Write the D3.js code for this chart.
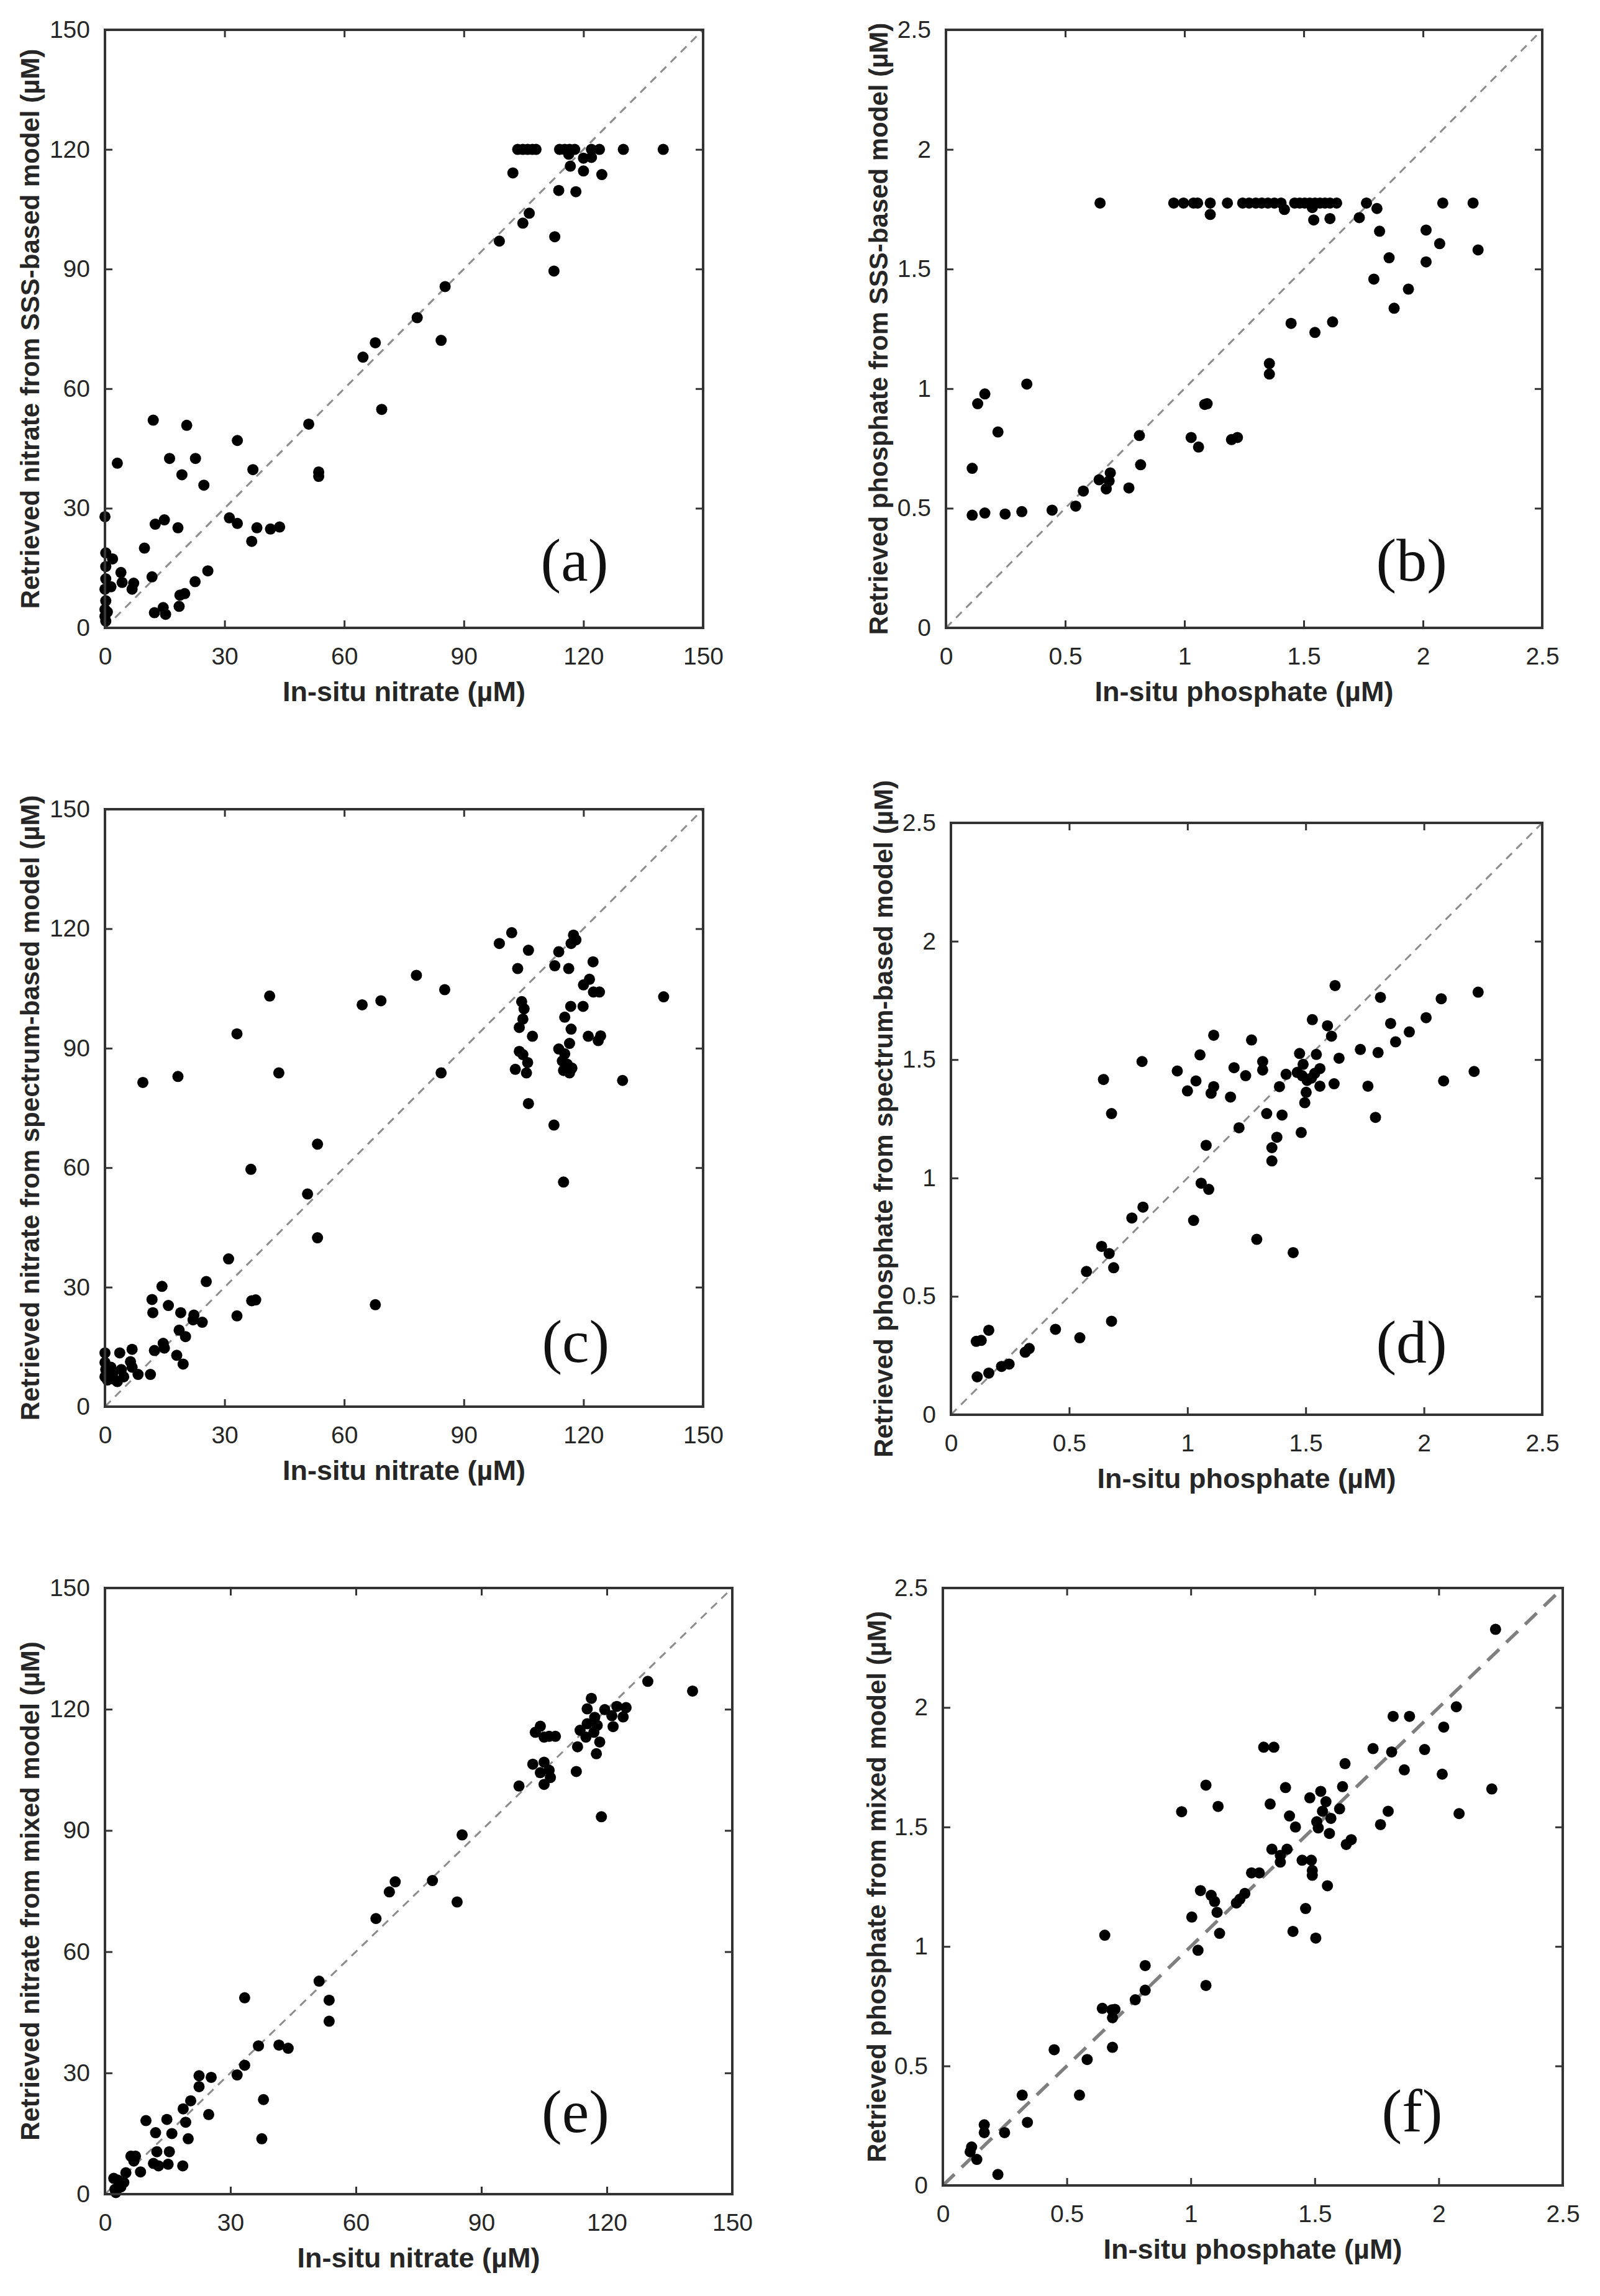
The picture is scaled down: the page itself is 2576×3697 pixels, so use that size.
<!DOCTYPE html>
<html>
<head>
<meta charset="utf-8">
<script src="https://cdn.jsdelivr.net/npm/d3@7"></script>
<style>
  html, body { margin: 0; padding: 0; background: #fff; }
  svg { display: block; }
</style>
</head>
<body>
<svg id="chart" width="2576" height="3697"></svg>
<script>
// ---- data ----
const nitrateTicks = [0, 30, 60, 90, 120, 150];
const phosphateTicks = [0, 0.5, 1, 1.5, 2, 2.5];

const panelLetters = ["(a)", "(b)", "(c)", "(d)", "(e)", "(f)"];
const xTitles = ["In-situ nitrate (µM)", "In-situ phosphate (µM)", "In-situ nitrate (µM)",
                 "In-situ phosphate (µM)", "In-situ nitrate (µM)", "In-situ phosphate (µM)"];
const yTitles = ["Retrieved nitrate from SSS-based model (µM)",
                 "Retrieved phosphate from SSS-based model (µM)",
                 "Retrieved nitrate from spectrum-based model (µM)",
                 "Retrieved phosphate from spectrum-based model (µM)",
                 "Retrieved nitrate from mixed model (µM)",
                 "Retrieved phosphate from mixed model (µM)"];

// (a) in-situ vs SSS-based nitrate
const sssNitrate = [
  [103.5,120],[104.8,120],[106,120],[107.2,120],[108.1,120],[114,120],[115.3,120],[116.5,120],
  [117.8,120],[122,120],[124,120],[130,120],[140,120],
  [102.3,114.1],[116.3,118.8],[116.7,115.8],[120,117.8],[120,114.6],[122,118],[124.6,113.7],
  [113.8,109.7],[118.1,109.4],[104.8,101.5],[106.4,104],[98.9,97],[112.8,98.1],[112.6,89.5],
  [85.3,85.6],[78.3,77.8],[84.3,72.1],[64.7,67.9],[67.8,71.5],[69.4,54.8],[51.1,51.1],
  [53.6,39.1],[53.6,38],[37.1,39.7],[33.2,47],[31.2,27.6],[33.2,26.2],[36.8,21.7],[38.1,25.1],
  [41.5,24.8],[43.8,25.3],[25.8,14.3],[24.8,35.8],[22.7,42.5],[20.5,50.8],[19.3,38.4],
  [16.2,42.5],[12.1,52.1],[3.1,41.3],[18.3,25.1],[14.9,27.1],[12.6,26],[9.9,20],[11.8,12.8],
  [22.6,11.6],[20,8.6],[18.8,8.2],[18.6,5.4],[14.6,5.1],[15.2,3.4],[12.4,3.8],[0,27.9],
  [0.2,18.8],[0.2,15.4],[1.9,17.3],[4,13.9],[4.3,11.4],[7.2,11.2],[6.8,9.7],[1.5,10.3],
  [0.2,12.3],[0,9.7],[0.2,6.8],[0,4.6],[0,2.9],[0.2,1.7],[0.6,4]
];

// (b) in-situ vs SSS-based phosphate
const sssPhosphate = [
  [0.646,1.776],[0.955,1.776],[0.996,1.776],[1.038,1.776],[1.055,1.776],[1.108,1.776],
  [1.18,1.776],[1.244,1.776],[1.271,1.776],[1.299,1.776],[1.324,1.776],[1.35,1.776],
  [1.377,1.776],[1.405,1.776],[1.462,1.776],[1.483,1.776],[1.504,1.776],[1.525,1.776],
  [1.547,1.776],[1.568,1.776],[1.589,1.776],[1.61,1.776],[1.638,1.776],[1.763,1.776],
  [2.083,1.776],[2.21,1.776],
  [1.108,1.728],[1.419,1.749],[1.536,1.757],[1.542,1.705],[1.61,1.711],[1.733,1.715],
  [1.807,1.753],[1.818,1.658],[2.013,1.663],[2.07,1.606],[1.858,1.547],[2.013,1.53],
  [2.231,1.58],[1.794,1.458],[1.939,1.416],[1.879,1.336],[1.447,1.273],[1.547,1.235],
  [1.621,1.279],[1.356,1.105],[1.356,1.061],[1.085,0.934],[1.095,0.937],[1.028,0.796],
  [1.059,0.756],[1.197,0.787],[1.222,0.796],[0.811,0.804],[0.816,0.682],[0.642,0.619],
  [0.689,0.648],[0.684,0.614],[0.672,0.581],[0.767,0.585],[0.576,0.572],[0.544,0.509],
  [0.445,0.492],[0.318,0.486],[0.248,0.476],[0.163,0.48],[0.11,0.471],[0.11,0.667],
  [0.133,0.937],[0.163,0.978],[0.218,0.819],[0.339,1.019]
];

// (c) in-situ vs spectrum-based nitrate
const spectrumNitrate = [
  [98.9,116.3],[102,119],[106.2,114.6],[103.5,110],[112.8,110.7],[113.8,114.2],[116.3,110],
  [116.9,116.3],[117.5,118.4],[118.1,117.2],[122.4,111.7],[121.5,107.3],[120,105.9],
  [122.5,104.1],[124,104.1],[119.9,100.5],[116.8,100.5],[121.2,93],[123.7,91.9],[124.3,93.1],
  [115.3,97.8],[116.9,94.8],[116.5,91.2],[113.8,89.8],[115.3,88.6],[114.7,86.8],[115.9,86],
  [115,84.4],[116.5,83.8],[117.1,85],[104.5,101.7],[105.1,99.9],[104.8,97.3],[103.9,95.2],
  [107.2,93],[103.9,89.2],[104.8,88.4],[106,86.4],[102.9,84.7],[105.7,83.8],[106.2,76.1],
  [112.6,70.7],[115,56.4],[129.8,81.9],[140.1,102.9],[85.2,104.7],[84.3,83.8],[78.1,108.3],
  [69.2,101.9],[64.5,100.9],[41.3,103.1],[33.1,93.6],[43.6,83.8],[18.3,82.9],[9.5,81.4],
  [36.6,59.6],[53.3,65.9],[50.8,53.4],[53.3,42.4],[31,37.1],[67.8,25.6],[36.8,26.6],
  [37.8,26.8],[33.1,22.8],[25.4,31.4],[24.4,21.2],[22.3,23],[22.1,21.8],[19,23.6],
  [18.6,19.2],[20.2,17.6],[19.6,10.7],[18,12.9],[14.3,30.2],[11.8,26.9],[12,23.6],
  [15.9,25.4],[14.6,15.9],[14.9,14.7],[12.4,14.1],[11.4,8.1],[8.3,8.1],[6.8,14.4],
  [6.4,11.3],[6.8,9.9],[3.7,13.5],[4.1,9.3],[4.7,7.5],[3.1,6.3],[1.9,8.1],[1.5,9.9],
  [0,13.5],[0,11.1],[0.2,9.3],[0,7.5],[0.6,6.7],[2.2,6.9]
];

// (d) in-situ vs spectrum-based phosphate
const spectrumPhosphate = [
  [1.624,1.813],[1.816,1.763],[2.073,1.757],[2.229,1.785],[1.528,1.669],[1.592,1.643],
  [1.609,1.599],[2.009,1.677],[1.859,1.653],[1.938,1.617],[1.88,1.575],[1.731,1.543],
  [1.806,1.53],[1.641,1.506],[1.545,1.522],[1.56,1.462],[1.538,1.442],[1.56,1.388],
  [1.62,1.398],[1.474,1.526],[1.489,1.48],[1.464,1.446],[1.485,1.432],[1.506,1.412],
  [1.524,1.422],[1.502,1.362],[1.496,1.318],[1.481,1.192],[1.417,1.438],[1.389,1.386],
  [1.4,1.266],[1.335,1.272],[1.378,1.172],[1.357,1.128],[1.357,1.072],[1.318,1.492],
  [1.318,1.456],[1.271,1.583],[1.246,1.432],[1.197,1.466],[1.182,1.342],[1.218,1.212],
  [1.111,1.603],[1.053,1.52],[1.036,1.41],[0.957,1.452],[1.0,1.368],[1.111,1.386],
  [1.1,1.358],[1.079,1.138],[1.058,0.978],[1.09,0.952],[1.026,0.821],[1.293,0.741],
  [1.447,0.685],[0.808,1.492],[0.645,1.416],[0.679,1.272],[0.812,0.877],[0.765,0.831],
  [0.637,0.711],[0.669,0.681],[0.688,0.621],[0.679,0.395],[0.573,0.605],[0.545,0.325],
  [0.442,0.361],[0.331,0.28],[0.314,0.264],[0.246,0.214],[0.214,0.204],[0.16,0.176],
  [0.111,0.16],[0.107,0.31],[0.128,0.314],[0.16,0.357],[2.212,1.45],[2.083,1.41],
  [1.763,1.388],[1.795,1.256]
];

// (e) in-situ vs mixed-model nitrate
const mixedNitrate = [
  [140.5,124.5],[129.8,126.9],[116.3,122.7],[115.3,120.1],[119.5,119.9],[122.4,120.7],
  [124.6,120.4],[121.2,118.4],[123.9,118.1],[117.1,118],[117.7,116],[121.5,115.7],
  [113.6,114.8],[115.3,116.4],[116.9,114.3],[115,113.1],[118.3,111.9],[113,110.7],
  [117.5,109],[112.7,104.6],[118.7,93.4],[104.1,115.8],[102.9,114.3],[105,113.1],
  [106.2,113.3],[107.7,113.3],[104.1,104.3],[105,106.9],[102.3,106.4],[106.2,104.9],
  [106.5,103.1],[105,101.4],[99,101],[85.4,88.9],[84.2,72.3],[78.3,77.6],[69.4,77.3],
  [68,74.8],[64.8,68.2],[51.2,52.7],[53.6,48],[53.6,42.8],[33.4,48.6],[36.7,36.7],
  [41.6,36.9],[43.8,36.1],[33.4,31.9],[31.6,29.5],[37.9,23.4],[37.5,13.7],[25.4,28.9],
  [22.5,29.3],[22.5,26.6],[20.5,23.1],[24.8,19.7],[18.7,21.1],[19.3,17.8],[19.9,13.7],
  [14.8,18.5],[16,15],[12.1,15.2],[9.8,18.2],[12.4,10.5],[15.4,10.5],[11.6,7.6],[12.8,7],
  [15.1,7.4],[18.6,7],[8.5,5.5],[6.2,9.4],[7.3,9.4],[6.9,8.2],[5,5.3],[4.5,2.9],[3.5,2.1],
  [2.4,1.2],[2.1,3.9],[3,3.5],[3.8,1.8],[2.6,0.4]
];

// (f) in-situ vs mixed-model phosphate
const mixedPhosphate = [
  [2.229,2.327],[2.071,2.003],[2.02,1.918],[1.816,1.963],[1.882,1.963],[1.943,1.824],
  [1.735,1.828],[1.81,1.814],[1.861,1.739],[2.014,1.721],[2.214,1.659],[2.082,1.556],
  [1.796,1.566],[1.765,1.51],[1.294,1.834],[1.335,1.834],[1.061,1.675],[1.11,1.586],
  [0.963,1.564],[1.32,1.596],[1.382,1.665],[1.622,1.765],[1.612,1.669],[1.524,1.649],
  [1.48,1.622],[1.545,1.606],[1.6,1.576],[1.531,1.566],[1.565,1.536],[1.508,1.522],
  [1.514,1.496],[1.559,1.473],[1.422,1.5],[1.398,1.546],[1.647,1.447],[1.627,1.427],
  [1.327,1.407],[1.388,1.407],[1.361,1.381],[1.361,1.353],[1.449,1.361],[1.486,1.361],
  [1.49,1.318],[1.49,1.298],[1.551,1.254],[1.245,1.308],[1.276,1.308],[1.218,1.222],
  [1.198,1.198],[1.184,1.182],[1.039,1.234],[1.082,1.214],[1.096,1.188],[1.106,1.143],
  [1.116,1.055],[1.004,1.123],[1.029,0.984],[1.061,0.837],[1.463,1.159],[1.412,1.063],
  [1.504,1.035],[0.816,0.92],[0.816,0.817],[0.776,0.777],[0.653,1.047],[0.643,0.741],
  [0.682,0.735],[0.694,0.737],[0.684,0.702],[0.684,0.578],[0.582,0.527],[0.551,0.378],
  [0.449,0.568],[0.32,0.378],[0.341,0.264],[0.249,0.221],[0.167,0.254],[0.167,0.221],
  [0.116,0.161],[0.11,0.141],[0.137,0.109],[0.222,0.046]
];

// ---- layout (pixel frames of each axes box) ----
const panels = [
  {pts: sssNitrate,        ticks: nitrateTicks,   x0: 169,  x1: 1132, y0: 48,   y1: 1011, lx: 0.785, ly: 0.921, yOff: 106, thick: false},
  {pts: sssPhosphate,      ticks: phosphateTicks, x0: 1523, x1: 2483, y0: 48,   y1: 1011, lx: 0.781, ly: 0.921, yOff: 94,  thick: false},
  {pts: spectrumNitrate,   ticks: nitrateTicks,   x0: 169,  x1: 1132, y0: 1303, y1: 2265, lx: 0.787, ly: 0.925, yOff: 106, thick: false},
  {pts: spectrumPhosphate, ticks: phosphateTicks, x0: 1531, x1: 2483, y0: 1325, y1: 2278, lx: 0.779, ly: 0.912, yOff: 94,  thick: false},
  {pts: mixedNitrate,      ticks: nitrateTicks,   x0: 169,  x1: 1179, y0: 2557, y1: 3533, lx: 0.750, ly: 0.898, yOff: 106, thick: false},
  {pts: mixedPhosphate,    ticks: phosphateTicks, x0: 1518, x1: 2516, y0: 2557, y1: 3519, lx: 0.757, ly: 0.910, yOff: 92,  thick: true}
];

const axisColor = "#333333";
const textColor = "#262626";
const sansFont = "'Liberation Sans', Arial, Helvetica, sans-serif";
const serifFont = "'Liberation Serif', 'Times New Roman', Times, serif";

const svg = d3.select("#chart");
svg.append("rect").attr("width", 2576).attr("height", 3697).attr("fill", "#fff");

panels.forEach(function(p, i) {
  const maxV = p.ticks[p.ticks.length - 1];
  const x = d3.scaleLinear().domain([0, maxV]).range([p.x0, p.x1]);
  const y = d3.scaleLinear().domain([0, maxV]).range([p.y1, p.y0]);
  const g = svg.append("g");

  // 1:1 line
  g.append("line")
    .attr("x1", x(0)).attr("y1", y(0))
    .attr("x2", x(maxV)).attr("y2", y(maxV))
    .attr("stroke", p.thick ? "#7f7f7f" : "#8c8c8c")
    .attr("stroke-width", p.thick ? 5.5 : 3)
    .attr("stroke-dasharray", p.thick ? "26,16" : "13,10");

  // points
  g.selectAll("circle")
    .data(p.pts)
    .enter()
    .append("circle")
    .attr("cx", function(d) { return x(d[0]); })
    .attr("cy", function(d) { return y(d[1]); })
    .attr("r", 9)
    .attr("fill", "#000");

  // axes, ticks pointing inwards like matlab
  const fmt = function(d) { return String(d); };
  const bottom = g.append("g").attr("transform", "translate(0," + p.y1 + ")")
    .call(d3.axisBottom(x).tickValues(p.ticks).tickFormat(fmt).tickSizeInner(-12).tickSizeOuter(0).tickPadding(31));
  const left = g.append("g").attr("transform", "translate(" + p.x0 + ",0)")
    .call(d3.axisLeft(y).tickValues(p.ticks).tickFormat(fmt).tickSizeInner(-12).tickSizeOuter(0).tickPadding(24));
  const top = g.append("g").attr("transform", "translate(0," + p.y0 + ")")
    .call(d3.axisTop(x).tickValues(p.ticks).tickFormat("").tickSizeInner(-12).tickSizeOuter(0));
  const right = g.append("g").attr("transform", "translate(" + p.x1 + ",0)")
    .call(d3.axisRight(y).tickValues(p.ticks).tickFormat("").tickSizeInner(-12).tickSizeOuter(0));

  [bottom, left, top, right].forEach(function(ax) {
    ax.select(".domain").remove();
    ax.selectAll(".tick line").attr("stroke", axisColor).attr("stroke-width", 3);
    ax.selectAll(".tick text")
      .attr("fill", textColor)
      .style("font-family", sansFont)
      .style("font-size", "39px");
  });

  // box
  g.append("rect")
    .attr("x", p.x0).attr("y", p.y0)
    .attr("width", p.x1 - p.x0).attr("height", p.y1 - p.y0)
    .attr("fill", "none")
    .attr("stroke", axisColor)
    .attr("stroke-width", 4);

  // axis titles
  g.append("text")
    .attr("x", (p.x0 + p.x1) / 2)
    .attr("y", p.y1 + 118)
    .attr("text-anchor", "middle")
    .attr("fill", textColor)
    .style("font-family", sansFont)
    .style("font-weight", "bold")
    .style("font-size", "45px")
    .text(xTitles[i]);

  g.append("text")
    .attr("transform", "translate(" + (p.x0 - p.yOff) + "," + ((p.y0 + p.y1) / 2) + ") rotate(-90)")
    .attr("text-anchor", "middle")
    .attr("fill", textColor)
    .style("font-family", sansFont)
    .style("font-weight", "bold")
    .style("font-size", "42px")
    .text(yTitles[i]);

  // panel letter
  g.append("text")
    .attr("x", p.x0 + p.lx * (p.x1 - p.x0))
    .attr("y", p.y0 + p.ly * (p.y1 - p.y0))
    .attr("text-anchor", "middle")
    .attr("fill", "#111")
    .style("font-family", serifFont)
    .style("font-size", "98px")
    .text(panelLetters[i]);
});
</script>
</body>
</html>
